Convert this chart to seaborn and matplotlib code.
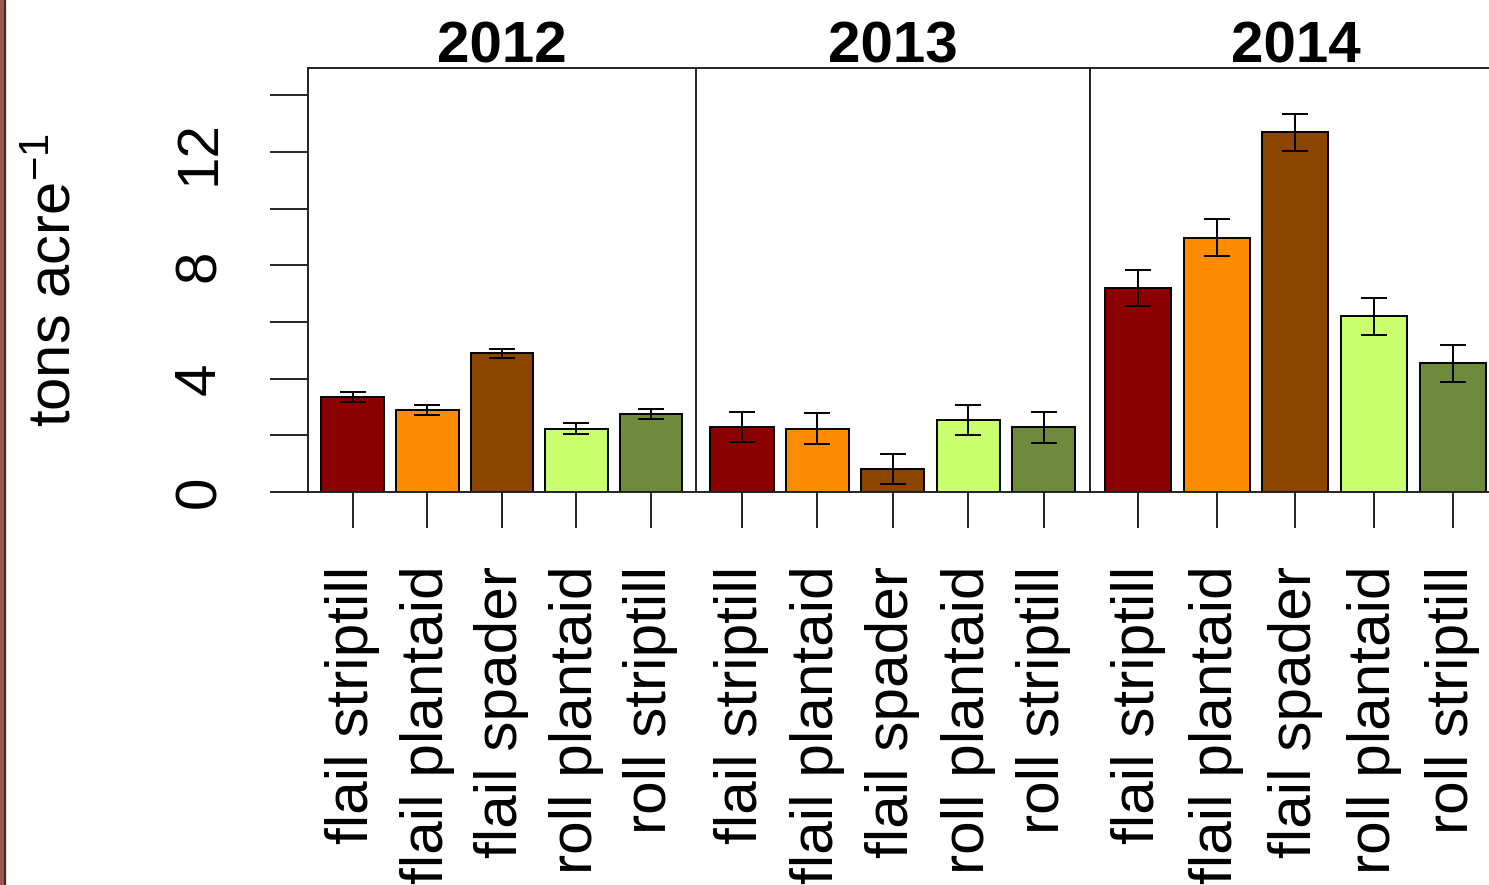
import matplotlib
matplotlib.use("Agg")
import matplotlib.pyplot as plt
from matplotlib.patches import Rectangle
from matplotlib.lines import Line2D
import seaborn as sns
import pandas as pd

# ---- data ----
years = ["2012", "2013", "2014"]
treatments = ["flail striptill", "flail plantaid", "flail spader", "roll plantaid", "roll striptill"]
colors = ["#8B0000", "#FF8C00", "#8B4500", "#CAFF70", "#6E8B3D"]
mean_2012 = [3.36, 2.89, 4.89, 2.24, 2.76]
se_2012 = [0.18, 0.18, 0.15, 0.18, 0.18]
mean_2013 = [2.29, 2.24, 0.82, 2.53, 2.29]
se_2013 = [0.53, 0.56, 0.53, 0.53, 0.55]
mean_2014 = [7.20, 8.98, 12.70, 6.20, 4.54]
se_2014 = [0.65, 0.65, 0.65, 0.65, 0.65]
y_ticks = [0, 2, 4, 6, 8, 10, 12, 14]
y_ticklabels = ["0", "", "4", "", "8", "", "12", ""]

means = [mean_2012, mean_2013, mean_2014]
ses = [se_2012, se_2013, se_2014]

plt.rcParams["font.family"] = ["Liberation Sans", "DejaVu Sans"]
plt.rcParams["mathtext.fontset"] = "custom"
plt.rcParams["mathtext.rm"] = "Liberation Sans"
plt.rcParams["mathtext.it"] = "Liberation Sans"

W, H = 1489, 885
fig = plt.figure(figsize=(W / 100, H / 100), dpi=100)

ytop_px, ybot_px = 68, 492
panels = [
    (308.0, 695.7, (-0.6, 4.6)),
    (695.7, 1090.0, (-0.614, 4.615)),
    (1090.0, 1500.8, (-0.61, 4.61)),
]
ymax = 14.97
line_col = "#222222"
lw = 1.4

for i, (lpx, rpx, xl) in enumerate(panels):
    ax = fig.add_axes([lpx / W, 1 - ybot_px / H, (rpx - lpx) / W, (ybot_px - ytop_px) / H])
    df = pd.DataFrame({"treatment": treatments, "value": means[i]})
    sns.barplot(data=df, x="treatment", y="value", hue="treatment", palette=colors,
                order=treatments, hue_order=treatments, legend=False, errorbar=None,
                width=0.84, saturation=1, edgecolor="black", linewidth=lw, ax=ax)
    ax.errorbar(range(len(treatments)), means[i], yerr=ses[i], fmt="none",
                ecolor="black", elinewidth=lw, capsize=9.6, capthick=lw, zorder=5)
    ax.set_xlim(*xl)
    ax.set_ylim(0, ymax)
    ax.set_xlabel("")
    ax.set_ylabel("")
    for s in ["left", "top", "bottom"]:
        ax.spines[s].set_visible(True)
        ax.spines[s].set_color(line_col)
        ax.spines[s].set_linewidth(lw)
    ax.spines["right"].set_visible(False)
    ax.set_xticks(range(len(treatments)))
    ax.set_xticklabels(treatments, rotation=90, fontsize=43.5)
    ax.tick_params(axis="x", direction="out", length=26, width=lw, color=line_col, pad=27)
    ax.set_title(years[i], fontsize=42, fontweight="bold", y=1.0, pad=4)
    if i == 0:
        ax.set_yticks(y_ticks)
        ax.set_yticklabels(y_ticklabels, rotation=90, fontsize=42, va="center")
        ax.tick_params(axis="y", direction="out", length=27.4, width=lw, color=line_col, pad=31)
    else:
        ax.set_yticks([])
    ax.set_facecolor("white")

fig.text(56 / W, 1 - 280 / H, "tons acre$^{\u2212 1}$", rotation=90, fontsize=43,
         ha="center", va="center")

# left window border strip
fig.add_artist(Rectangle((0, 0), 4.5 / W, 1, transform=fig.transFigure,
                         color="#975a50", zorder=10))
fig.add_artist(Line2D([5 / W, 5 / W], [0, 1], transform=fig.transFigure,
                      color="#3a1e18", linewidth=1.2, zorder=11))

fig.savefig("out.png", dpi=100, facecolor="white")
